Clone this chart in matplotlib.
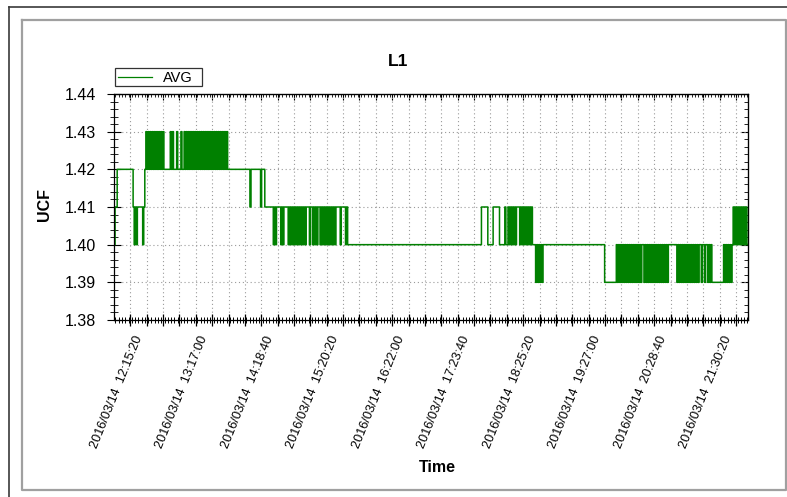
import matplotlib
matplotlib.use("Agg")
import pandas as pd
import matplotlib.pyplot as plt
import matplotlib.dates as mdates
from matplotlib.lines import Line2D
from matplotlib.patches import Rectangle
from matplotlib.ticker import MultipleLocator, FormatStrFormatter
from matplotlib.transforms import ScaledTranslation

# readings: (minutes after 12:00, UCF value from then on)
steps_a = [(0, 1.40), (1, 1.41), (3, 1.42), (18, 1.41), (19, 1.40), (20, 1.41),
           (21, 1.40), (22, 1.41), (27, 1.40), (28, 1.41), (29, 1.42)]

steps_b = [(30, 1.43), (31, 1.42), (32, 1.43), (33, 1.42), (34, 1.43), (35, 1.42),
           (36, 1.43), (37, 1.42), (38, 1.43), (39, 1.42), (40, 1.43), (41, 1.42),
           (42, 1.43), (43, 1.42), (44, 1.43), (45, 1.42), (46, 1.43), (47, 1.42),
           (53, 1.43), (54, 1.42), (55, 1.43), (56, 1.42), (59, 1.43), (60, 1.42),
           (63, 1.43), (64, 1.42),
           (66, 1.43), (67, 1.42), (68, 1.43), (69, 1.42), (70, 1.43), (71, 1.42),
           (72, 1.43), (73, 1.42), (74, 1.43), (75, 1.42), (76, 1.43), (77, 1.42),
           (78, 1.43), (79, 1.42), (80, 1.43), (81, 1.42), (82, 1.43), (83, 1.42),
           (84, 1.43), (85, 1.42), (86, 1.43), (87, 1.42), (88, 1.43), (89, 1.42),
           (90, 1.43), (91, 1.42), (92, 1.43), (93, 1.42), (94, 1.43), (95, 1.42),
           (96, 1.43), (97, 1.42), (98, 1.43), (99, 1.42), (100, 1.43), (101, 1.42),
           (102, 1.43), (103, 1.42), (104, 1.43), (105, 1.42), (106, 1.43), (107, 1.42)]

steps_c = [(128, 1.41), (129, 1.42), (138, 1.41), (139, 1.42), (142, 1.41),
           (150, 1.40), (151, 1.41), (152, 1.40), (153, 1.41), (157, 1.40), (158, 1.41),
           (159, 1.40), (160, 1.41),
           (164, 1.40), (165, 1.41), (166, 1.40), (167, 1.41), (168, 1.40), (169, 1.41),
           (170, 1.40), (171, 1.41), (172, 1.40), (173, 1.41), (174, 1.40), (175, 1.41),
           (176, 1.40), (177, 1.41), (178, 1.40), (179, 1.41), (180, 1.40), (181, 1.41),
           (184, 1.40), (185, 1.41),
           (187, 1.40), (188, 1.41), (189, 1.40), (190, 1.41), (191, 1.40), (192, 1.41),
           (194, 1.40), (195, 1.41), (196, 1.40), (197, 1.41), (198, 1.40), (199, 1.41),
           (200, 1.40), (201, 1.41), (202, 1.40), (203, 1.41), (204, 1.40), (205, 1.41),
           (206, 1.40), (207, 1.41), (208, 1.40), (209, 1.41),
           (213, 1.40), (214, 1.41), (218, 1.40), (219, 1.41), (220, 1.40)]

steps_d = [(346, 1.41), (352, 1.40), (357, 1.41), (363, 1.40),
           (368, 1.41), (369, 1.40), (371, 1.41), (372, 1.40), (373, 1.41), (374, 1.40),
           (375, 1.41), (376, 1.40), (377, 1.41), (378, 1.40), (379, 1.41), (382, 1.40),
           (383, 1.41), (384, 1.40), (385, 1.41), (386, 1.40), (387, 1.41), (388, 1.40),
           (389, 1.41), (390, 1.40), (391, 1.41), (392, 1.40), (393, 1.41), (394, 1.40),
           (397, 1.39), (398, 1.40), (399, 1.39), (400, 1.40), (401, 1.39), (402, 1.40),
           (403, 1.39), (404, 1.40)]

steps_e = [(462, 1.39),
           (473, 1.40), (474, 1.39), (475, 1.40), (476, 1.39), (477, 1.40), (478, 1.39),
           (479, 1.40), (480, 1.39), (481, 1.40), (482, 1.39), (483, 1.40), (484, 1.39),
           (485, 1.40), (486, 1.39), (487, 1.40), (488, 1.39), (489, 1.40), (490, 1.39),
           (491, 1.40), (492, 1.39), (493, 1.40), (494, 1.39), (495, 1.40), (496, 1.39),
           (497, 1.40), (499, 1.39), (500, 1.40), (501, 1.39), (502, 1.40), (503, 1.39),
           (504, 1.40), (505, 1.39), (506, 1.40), (507, 1.39), (508, 1.40), (509, 1.39),
           (510, 1.40), (511, 1.39), (512, 1.40), (513, 1.39), (514, 1.40), (515, 1.39),
           (516, 1.40), (517, 1.39), (518, 1.40), (519, 1.39), (520, 1.40), (521, 1.39),
           (522, 1.40),
           (530, 1.39), (531, 1.40), (532, 1.39), (533, 1.40), (534, 1.39), (535, 1.40),
           (536, 1.39), (537, 1.40), (538, 1.39), (539, 1.40), (540, 1.39), (541, 1.40),
           (542, 1.39), (543, 1.40), (544, 1.39), (545, 1.40), (546, 1.39), (547, 1.40),
           (548, 1.39), (549, 1.40), (550, 1.39), (551, 1.40),
           (553, 1.39), (554, 1.40), (556, 1.39), (557, 1.40), (559, 1.39), (560, 1.40),
           (561, 1.39), (562, 1.40), (563, 1.39),
           (574, 1.40), (575, 1.39), (576, 1.40), (577, 1.39), (578, 1.40), (579, 1.39),
           (580, 1.40), (581, 1.39), (582, 1.40),
           (583, 1.41), (584, 1.40), (585, 1.41), (586, 1.40), (587, 1.41), (588, 1.40),
           (589, 1.41), (590, 1.40), (591, 1.41), (592, 1.40), (593, 1.41), (594, 1.40),
           (595, 1.41), (596, 1.40)]

end_minute = 597

tick_labels = ["2016/03/14  12:15:20", "2016/03/14  13:17:00", "2016/03/14  14:18:40",
               "2016/03/14  15:20:20", "2016/03/14  16:22:00", "2016/03/14  17:23:40",
               "2016/03/14  18:25:20", "2016/03/14  19:27:00", "2016/03/14  20:28:40",
               "2016/03/14  21:30:20"]

start = pd.Timestamp("2016-03-14 12:00:00")

steps = steps_a + steps_b + steps_c + steps_d + steps_e
minutes = [m for m, _ in steps] + [end_minute]
values = [v for _, v in steps] + [steps[-1][1]]
times = start + pd.to_timedelta(minutes, unit="min")
x = mdates.date2num(times.to_pydatetime())

tick_times = pd.to_datetime([s.replace("  ", " ") for s in tick_labels],
                            format="%Y/%m/%d %H:%M:%S")
tick_x = mdates.date2num(tick_times.to_pydatetime())
grid_step = (tick_x[1] - tick_x[0]) / 4

W, H = 787, 497
plt.rcParams["font.family"] = ["Liberation Sans", "DejaVu Sans"]
plt.rcParams["path.simplify"] = False
fig = plt.figure(figsize=(W / 100, H / 100), dpi=100)


def fx(px):
    return px / W


def fy(py):
    return 1 - py / H


# window frames
fig.add_artist(Line2D([fx(9), fx(787)], [fy(7), fy(7)], color="#3a3a3a", lw=1.2))
fig.add_artist(Line2D([fx(9), fx(9)], [fy(7), fy(497)], color="#3a3a3a", lw=1.2))
fig.add_artist(Line2D([fx(22), fx(786), fx(786), fx(22), fx(22)],
                      [fy(20), fy(20), fy(490), fy(490), fy(20)],
                      color="#a0a0a0", lw=1.6))

ax = fig.add_axes([fx(114), fy(320), (748 - 114) / W, (320 - 94) / H])
ax.plot(x, values, drawstyle="steps-post", color="green", lw=1.1, snap=False)

ax.set_xlim(x[0], x[-1])
ax.set_ylim(1.38, 1.44)

# x ticks: gridlines every quarter of the label spacing
n_grid = int((x[-1] - tick_x[0]) / grid_step) + 1
grid_x = [tick_x[0] + k * grid_step for k in range(n_grid)]
grid_lab = [tick_labels[k // 4] if k % 4 == 0 else "" for k in range(n_grid)]
ax.set_xticks(grid_x)
ax.set_xticklabels(grid_lab, rotation=68, ha="right", va="top",
                   rotation_mode="anchor", fontsize=9.2)
ax.xaxis.set_minor_locator(MultipleLocator(grid_step / 5))
ax.tick_params(axis="x", which="major", direction="inout", length=8, width=0.9, pad=6)
ax.tick_params(axis="x", which="minor", direction="inout", length=5, width=0.7)
offset = ScaledTranslation(0.03, 0, fig.dpi_scale_trans)
for lab in ax.get_xticklabels():
    lab.set_transform(lab.get_transform() + offset)

ax.yaxis.set_major_locator(MultipleLocator(0.01))
ax.yaxis.set_minor_locator(MultipleLocator(0.002))
ax.yaxis.set_major_formatter(FormatStrFormatter("%.2f"))
ax.tick_params(axis="y", which="major", direction="inout", length=10, width=0.8,
               labelsize=11.5, pad=8)
ax.tick_params(axis="y", which="minor", direction="inout", length=6, width=0.6)

top = ax.secondary_xaxis("top")
top.set_xticks(grid_x)
top.xaxis.set_minor_locator(MultipleLocator(grid_step / 5))
top.tick_params(which="major", direction="in", length=4, width=0.8, labeltop=False)
top.tick_params(which="minor", direction="in", length=2.5, width=0.6)

right = ax.secondary_yaxis("right")
right.yaxis.set_major_locator(MultipleLocator(0.01))
right.yaxis.set_minor_locator(MultipleLocator(0.002))
right.tick_params(which="major", direction="in", length=5, width=0.8, labelright=False)
right.tick_params(which="minor", direction="in", length=3, width=0.6)

ax.grid(True, which="major", color="#9a9a9a", linestyle=(0, (1, 2.5)), lw=0.8)
for s in ax.spines.values():
    s.set_linewidth(0.9)

fig.text(fx(398), fy(62), "L1", ha="center", va="center", fontsize=12.5,
         fontweight="bold")
fig.text(fx(44), fy(205), "UCF", ha="center", va="center", rotation=90,
         fontsize=11.5, fontweight="bold")
fig.text(fx(437), fy(468), "Time", ha="center", va="center", fontsize=11.5,
         fontweight="bold")

# legend box
fig.add_artist(Rectangle((fx(115), fy(86)), (202 - 115) / W, (86 - 68) / H,
                         transform=fig.transFigure, fill=False, ec="#333333", lw=0.9))
fig.add_artist(Line2D([fx(118), fx(152)], [fy(77), fy(77)], color="green", lw=0.9))
fig.text(fx(163), fy(77.5), "AVG", ha="left", va="center", fontsize=10.5)

fig.savefig("out.png", dpi=100)
